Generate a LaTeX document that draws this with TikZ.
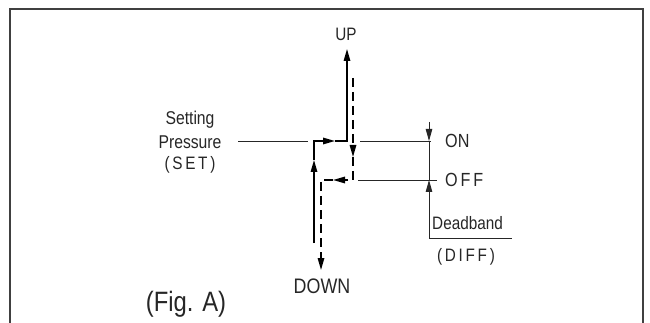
\documentclass[tikz,border=0pt]{standalone}
\usepackage{fontspec}
\setmainfont{Liberation Sans}
\newfontfamily\cond[FakeStretch=0.85]{Liberation Sans}
\newfontfamily\condsp[FakeStretch=0.85,LetterSpace=15]{Liberation Sans}
\usetikzlibrary{arrows.meta}
\tikzset{
  tip/.style={-{Triangle[length=12pt,width=6.5pt]}},
  thick path/.style={line width=1.5pt, draw=black},
  thin line/.style={line width=0.9pt, draw=black!85},
  dash path/.style={line width=1.5pt, draw=black, dash pattern=on 9pt off 5pt},
  lbl/.style={text=black!85, inner sep=0pt},
  frame/.style={line width=1.1pt, draw=black!75}
}
\begin{document}
\begin{tikzpicture}[x=1pt,y=-1pt]
\useasboundingbox (0,0) rectangle (650,323);
% frame
\draw[frame] (10,323) -- (10,9) -- (643,9) -- (643,323);

% coordinates
\coordinate (sA) at (314,243);
\coordinate (sB) at (314,141);
\coordinate (sC) at (347,141);
\coordinate (sD) at (347,49);
\coordinate (sAm) at (314,160);
\coordinate (sBm) at (335,141);
\coordinate (dA) at (353,78);
\coordinate (dB) at (353,180);
\coordinate (dC) at (321,180);
\coordinate (dD) at (321,270);
\coordinate (dAm) at (353,157);
\coordinate (dBm) at (333,180);

% labels
\node[lbl, font=\fontsize{18}{20}\selectfont\cond] (up) at (346,34) {UP};
\node[lbl, font=\fontsize{21}{23}\selectfont\cond] (down) at (322,286) {DOWN};
\node[lbl, font=\fontsize{18.5}{20}\selectfont\cond] (setting) at (190,120) {Setting};
\node[lbl, font=\fontsize{18.5}{20}\selectfont\cond] (pressure) at (190,142) {Pressure};
\node[lbl, font=\fontsize{18}{20}\selectfont\condsp] (set) at (190,165) {(SET)};
\node[lbl, font=\fontsize{19}{21}\selectfont\cond, anchor=west] (on) at (445,141) {ON};
\node[lbl, font=\fontsize{19}{21}\selectfont\condsp, anchor=west] (off) at (445,180) {OFF};
\node[lbl, font=\fontsize{18}{20}\selectfont\cond, anchor=west] (dead) at (432,223) {Deadband};
\node[lbl, font=\fontsize{18}{20}\selectfont\condsp] (diff) at (466,257) {(DIFF)};
\node[lbl, font=\fontsize{28}{30}\selectfont\cond] (fig) at (186,304) {(Fig. A)};

% setting / ON / OFF lines
\coordinate (setL) at (238,141);
\coordinate (setR) at (308,141);
\coordinate (onL) at (360,141);
\coordinate (onR) at (431,141);
\coordinate (offL) at (358,180);
\coordinate (offR) at (437,180);
\draw[thin line] (setL) -- (setR);
\draw[thin line] (onL) -- (onR);
\draw[thin line] (offL) -- (offR);

% deadband
\coordinate (dbTop) at (429,122);
\coordinate (dbOn) at (429,141);
\coordinate (dbOff) at (429,180);
\coordinate (dbBot) at (429,238);
\coordinate (dbEnd) at (512,238);
\draw[thin line, tip] (dbTop) -- (dbOn);
\draw[thin line] (dbOn) -- (dbOff);
\draw[thin line, tip] (dbBot) -- (dbOff);
\draw[thin line] (dbBot) -- (dbEnd);

% solid path (rising)
\draw[thick path, tip] (sA) -- (sAm);
\draw[thick path, tip] (sAm) -- (sB) -- (sBm);
\draw[thick path, tip] (sBm) -- (sC) -- (sD);

% dashed path (falling)
\draw[dash path, tip] (dA) -- (dAm);
\draw[dash path, tip] (dAm) -- (dB) -- (dBm);
\draw[dash path, tip] (dBm) -- (dC) -- (dD);
\end{tikzpicture}
\end{document}
